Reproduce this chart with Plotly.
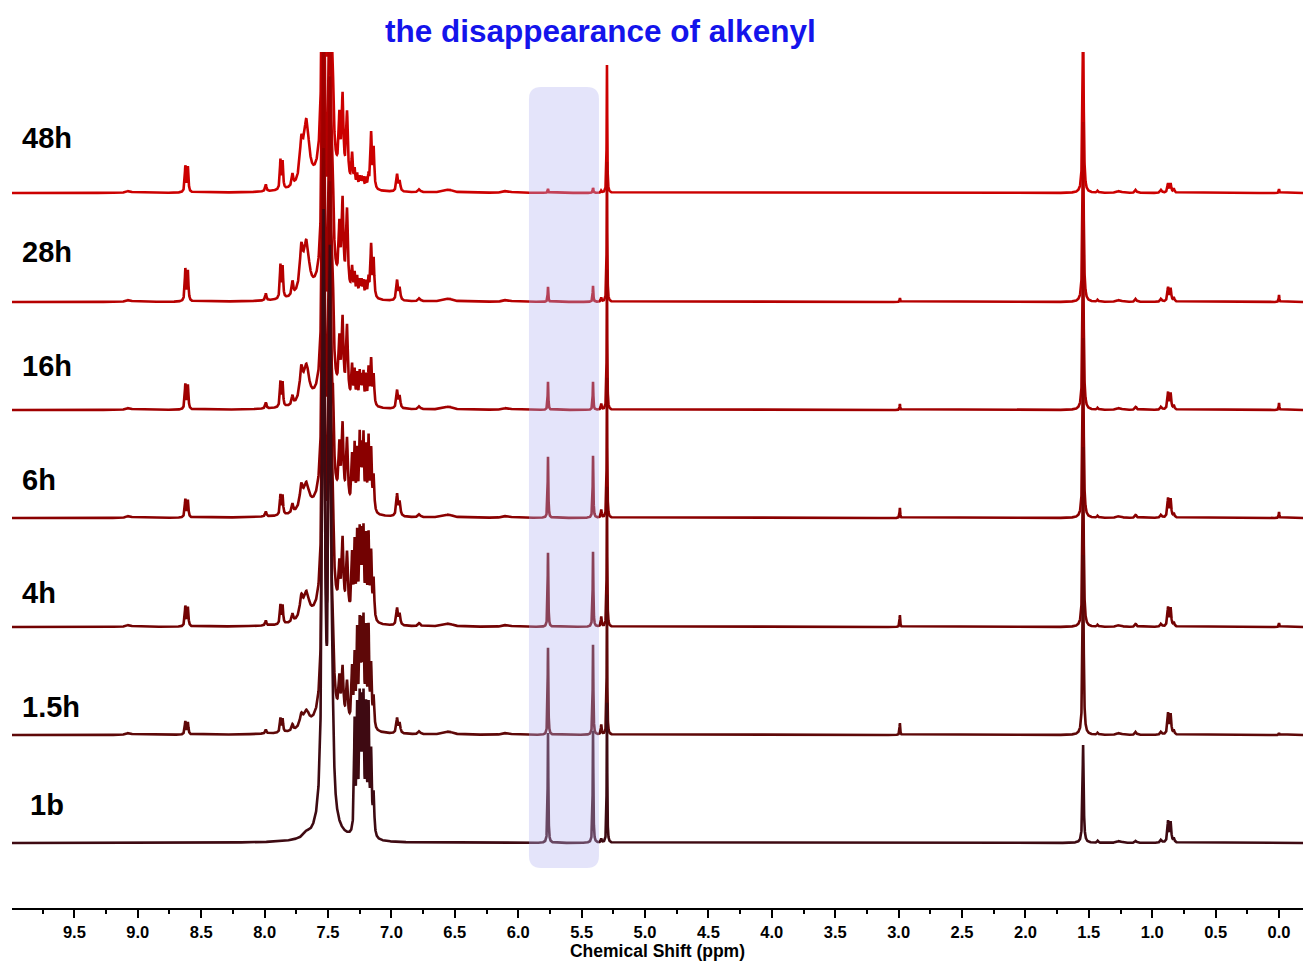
import numpy as np
import plotly.graph_objects as go

# ---------------- data ----------------
SPECTRA = ["48h", "28h", "16h", "6h", "4h", "1.5h", "1b"]
OFFSETS = [650, 541, 433, 325, 216, 108, 0]          # stacking offsets (intensity units)
COLORS = ["rgb(204,0,0)", "rgb(182,0,0)", "rgb(160,0,0)", "rgb(138,0,0)",
          "rgb(114,2,2)", "rgb(94,8,8)", "rgb(62,10,18)"]

# peak centres (ppm) and half-widths (ppm)
PEAK_PPM = [9.07, 8.625, 8.605, 7.99, 7.875, 7.858, 7.78, 7.71, 7.67,
            7.535, 7.485, 7.46, 7.41, 7.385, 7.35, 7.31, 7.29, 7.27, 7.25,
            7.235, 7.22, 7.20, 7.18, 7.16, 7.14, 6.955, 6.935, 6.78, 6.55,
            6.09, 5.765, 5.41, 5.345, 5.30, 2.99, 1.545, 1.43, 1.26, 1.13,
            0.93, 0.875, 0.855, 0.83, 0.00, 7.50]
PEAK_HWHM = [0.02, 0.005, 0.005, 0.006, 0.005, 0.005, 0.007, 0.015, 0.025,
             0.011, 0.011, 0.007, 0.007, 0.008, 0.008, 0.006, 0.005, 0.005, 0.005,
             0.005, 0.005, 0.005, 0.005, 0.006, 0.006, 0.007, 0.007, 0.01, 0.04,
             0.03, 0.003, 0.003, 0.004, 0.0025, 0.003, 0.005, 0.006, 0.02, 0.008,
             0.008, 0.006, 0.006, 0.006, 0.003, 0.12]

# peak heights for each spectrum (same order as PEAK_PPM)
H_48h = [2, 26, 25, 7, 29, 27, 12, 35, 62, 420, 330, 40, 55, 80, 68, 30, 15, 12, 10,
         10, 10, 10, 12, 55, 40, 17, 10, 3, 3, 2, 4, 5, 2, 128, 0, 180, 2, 2, 3,
         3, 9, 9, 4, 4, 12]
H_28h = [2, 32, 30, 7, 33, 31, 14, 40, 50, 360, 320, 45, 55, 85, 80, 25, 20, 18, 15,
         15, 15, 15, 18, 52, 38, 20, 12, 3, 3, 2, 15, 16, 4, 140, 4, 180, 2, 2, 3,
         3, 14, 13, 4, 7, 12]
H_16h = [2, 25, 24, 6, 25, 24, 9, 30, 35, 340, 300, 55, 50, 75, 72, 35, 30, 28, 30,
         25, 30, 28, 35, 45, 30, 18, 12, 3, 3, 2, 28, 28, 6, 140, 6, 180, 2, 2, 3,
         3, 17, 16, 4, 7, 12]
H_6h = [2, 18, 17, 5, 20, 19, 9, 22, 25, 340, 300, 60, 50, 75, 65, 50, 60, 55, 70,
        55, 70, 60, 70, 60, 35, 22, 14, 3, 3, 2, 61, 62, 8, 140, 10, 180, 2, 2, 3,
        3, 19, 18, 4, 6, 15]
H_4h = [2, 20, 19, 5, 19, 18, 8, 20, 25, 350, 320, 50, 40, 70, 60, 60, 70, 80, 80,
        75, 82, 78, 80, 65, 40, 17, 11, 3, 3, 2, 74, 75, 10, 140, 12, 180, 2, 2, 3,
        3, 19, 18, 4, 4, 15]
H_15h = [2, 13, 12, 4, 14, 13, 6, 12, 15, 370, 340, 40, 35, 50, 40, 55, 65, 90, 95,
         90, 98, 92, 95, 60, 30, 15, 10, 3, 3, 2, 87, 90, 10, 140, 12, 180, 2, 2, 3,
         3, 21, 20, 4, 2, 15]
H_1b = [0, 0, 0, 0, 0, 0, 0, 0, 4, 600, 560, 30, 0, 0, 0, 0, 110, 120, 125,
        115, 125, 120, 122, 80, 40, 0, 0, 0, 0, 0, 110, 112, 4, 140, 0, 98, 2, 2, 2,
        3, 21, 20, 4, 0, 8]
HEIGHTS = [H_48h, H_28h, H_16h, H_6h, H_4h, H_15h, H_1b]

LABEL_Y = [705, 591, 477, 363, 250, 136, 38]
TICKS = [9.5, 9.0, 8.5, 8.0, 7.5, 7.0, 6.5, 6.0, 5.5, 5.0, 4.5, 4.0,
         3.5, 3.0, 2.5, 2.0, 1.5, 1.0, 0.5, 0.0]
X_RANGE = [9.992, -0.189]
BOX_PPM = [5.915, 5.363]
BOX_Y = [-25, 756]

# ---------------- build figure ----------------
ppm = np.round(np.arange(-0.2, 10.0, 0.0005), 4)
centres = np.array(PEAK_PPM)
widths = np.array(PEAK_HWHM)

fig = go.Figure()
for name, off, col, hts in zip(SPECTRA, OFFSETS, COLORS, HEIGHTS):
    h = np.array(hts, dtype=float)
    d = ppm[:, None] - centres[None, :]
    spec = (h[None, :] * widths[None, :] ** 2 / (d ** 2 + widths[None, :] ** 2)).sum(axis=1)
    fig.add_trace(go.Scatter(x=ppm, y=spec + off, mode="lines", name=name,
                             line=dict(color=col, width=2.6), hoverinfo="skip",
                             showlegend=False))

for name, y in zip(SPECTRA, LABEL_Y):
    fig.add_annotation(x=9.93 if name != "1b" else 9.866, y=y, xref="x", yref="y",
                       text=name, showarrow=False, xanchor="left", yanchor="middle",
                       font=dict(family="Liberation Sans, Arial", size=29,
                                 color="black", weight="bold"))

fig.add_annotation(x=0.456, y=1.0245, xref="paper", yref="paper",
                   text="the disappearance of alkenyl", showarrow=False,
                   xanchor="center", yanchor="middle",
                   font=dict(family="Liberation Sans, Arial", size=31.5,
                             color="rgb(20,20,235)", weight="bold"))

# rounded highlight box
x0, x1 = BOX_PPM
y0, y1 = BOX_Y
rx, ry = 0.095, 12
path = (f"M {x0 - rx},{y0} L {x1 + rx},{y0} Q {x1},{y0} {x1},{y0 + ry} "
        f"L {x1},{y1 - ry} Q {x1},{y1} {x1 + rx},{y1} L {x0 - rx},{y1} "
        f"Q {x0},{y1} {x0},{y1 - ry} L {x0},{y0 + ry} Q {x0},{y0} {x0 - rx},{y0} Z")
fig.add_shape(type="path", path=path, xref="x", yref="y",
              fillcolor="rgba(180,180,242,0.36)", line=dict(width=0), layer="above")

fig.update_layout(
    width=1303, height=963,
    margin=dict(l=12, r=0, t=52, b=55),
    paper_bgcolor="white", plot_bgcolor="white",
    font=dict(family="Liberation Sans, Arial", color="black"),
    xaxis=dict(range=X_RANGE, showgrid=False, zeroline=False,
               showline=True, linecolor="black", linewidth=2,
               ticks="outside", ticklen=8, tickwidth=2, tickcolor="black",
               tickvals=TICKS, ticktext=[f"{t:.1f}" for t in TICKS],
               tickfont=dict(size=16.5, weight="bold"),
               minor=dict(ticks="outside", ticklen=4, tickwidth=1.5,
                          tickcolor="black", dtick=0.25, tick0=0),
               title=dict(text="Chemical Shift (ppm)", standoff=0,
                          font=dict(size=17.5, weight="bold"))),
    yaxis=dict(range=[-65, 791], visible=False, showgrid=False, zeroline=False),
)

fig.write_html("out.html")
